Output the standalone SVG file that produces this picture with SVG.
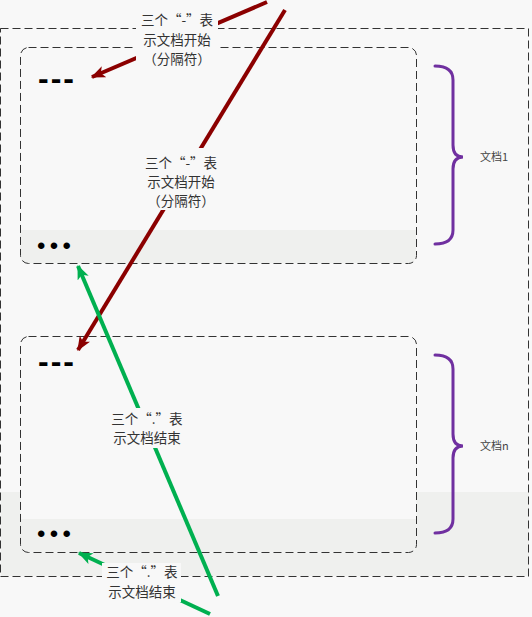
<svg xmlns="http://www.w3.org/2000/svg" width="532" height="617" viewBox="0 0 532 617">
<style>
.dash{fill:none;stroke:#333;stroke-width:1;stroke-dasharray:8 4}
.lbl{font-family:"Noto Sans CJK SC","Liberation Sans",sans-serif;font-size:13.5px;fill:#333;text-anchor:middle}
.doc{font-family:"Noto Sans CJK SC","Liberation Sans",sans-serif;font-size:11px;fill:#444}
.sep{font-family:"Liberation Sans",sans-serif;font-weight:bold;font-size:32px;fill:#000}
.dots{font-family:"Liberation Sans",sans-serif;font-size:24px;fill:#000}
.brace{fill:none;stroke:#7030a0;stroke-width:3;stroke-linecap:round}
.red{stroke:#8b0000;stroke-width:4;fill:none}
.green{stroke:#00b050;stroke-width:4;fill:none}
.lblbg{fill:#f8f8f8}
</style>
<defs>
<marker id="ar" viewBox="0 0 12 10" refX="11" refY="5" markerWidth="15" markerHeight="12" markerUnits="userSpaceOnUse" orient="auto">
<path d="M0,0 L12,5 L0,10 L3,5 Z" fill="#8b0000"/>
</marker>
<marker id="ag" viewBox="0 0 12 10" refX="11" refY="5" markerWidth="15" markerHeight="12" markerUnits="userSpaceOnUse" orient="auto">
<path d="M0,0 L12,5 L0,10 L3,5 Z" fill="#00b050"/>
</marker>
</defs>
<rect width="532" height="617" fill="#f8f8f8"/>
<g id="stream">
<rect x="1" y="492" width="528" height="84" fill="#eff0ee"/>
<rect x="0.5" y="28.5" width="528" height="548" class="dash"/>
</g>
<g id="doc1">
<rect x="20.5" y="47.5" width="396" height="216" rx="8" fill="#f8f8f8"/>
<path d="M20,230 H416 V255 Q416,263 408,263 H28 Q20,263 20,255 Z" fill="#eff0ee"/>
<rect x="20.5" y="47.5" width="396" height="216" rx="8" class="dash"/>
<text x="38" y="89" class="sep" textLength="36" lengthAdjust="spacing">---</text>
<text x="37" y="254" class="dots" textLength="34" lengthAdjust="spacing">•••</text>
</g>
<g id="docn">
<rect x="20.5" y="336.5" width="396" height="216" rx="8" fill="#f8f8f8"/>
<path d="M20,519 H416 V544 Q416,552 408,552 H28 Q20,552 20,544 Z" fill="#eff0ee"/>
<rect x="20.5" y="336.5" width="396" height="216" rx="8" class="dash"/>
<text x="38" y="372" class="sep" textLength="36" lengthAdjust="spacing">---</text>
<text x="37" y="542" class="dots" textLength="34" lengthAdjust="spacing">•••</text>
</g>
<g id="brace1">
<path class="brace" d="M435,66 Q453,66 453,80 L453,145 Q453,157 463,157 Q453,157 453,169 L453,230 Q453,244 435,244"/>
<text x="480" y="161" class="doc">文档1</text>
</g>
<g id="bracen">
<path class="brace" d="M435,355 Q453,355 453,369 L453,434 Q453,446 463,446 Q453,446 453,458 L453,519 Q453,533 435,533"/>
<text x="480" y="450" class="doc">文档n</text>
</g>
<g id="connectors">
<line class="red" x1="267" y1="2" x2="92" y2="77" marker-end="url(#ar)"/>
<line class="red" x1="285" y1="10" x2="78" y2="350" marker-end="url(#ar)"/>
<line class="green" x1="218" y1="596" x2="78" y2="266" marker-end="url(#ag)"/>
<line class="green" x1="210" y1="614" x2="79" y2="553" marker-end="url(#ag)"/>
</g>
<g id="label1">
<rect class="lblbg" x="136" y="10" width="82" height="59"/>
<text class="lbl" x="177" y="25">三个“-”表</text>
<text class="lbl" x="177" y="45">示文档开始</text>
<text class="lbl" x="177" y="64">（分隔符）</text>
</g>
<g id="label2">
<rect class="lblbg" x="139" y="148" width="84" height="62"/>
<text class="lbl" x="181" y="168">三个“-”表</text>
<text class="lbl" x="181" y="187">示文档开始</text>
<text class="lbl" x="181" y="206">（分隔符）</text>
</g>
<g id="label3">
<rect class="lblbg" x="107" y="408" width="80" height="40"/>
<text class="lbl" x="147" y="424">三个“.”表</text>
<text class="lbl" x="147" y="443">示文档结束</text>
</g>
<g id="label4">
<rect class="lblbg" x="102" y="563" width="79" height="39"/>
<text class="lbl" x="142" y="577">三个“.”表</text>
<text class="lbl" x="142" y="597">示文档结束</text>
</g>
</svg>
